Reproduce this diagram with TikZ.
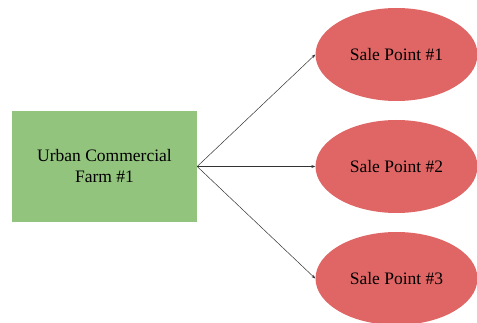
\documentclass[tikz,border=0pt]{standalone}
\usepackage{fontspec}
\setmainfont{Liberation Serif}
\usetikzlibrary{shapes.geometric,arrows.meta}

\definecolor{farmgreen}{RGB}{147,196,125}
\definecolor{salered}{RGB}{224,102,102}

\tikzset{
  farmbox/.style={rectangle, fill=farmgreen, minimum width=185pt, minimum height=111pt,
    inner sep=0pt, align=center, font=\fontsize{17.5}{21}\selectfont},
  salepoint/.style={ellipse, fill=salered, minimum width=162pt, minimum height=93pt,
    inner sep=0pt, font=\fontsize{17.5}{21}\selectfont},
  link/.style={draw=black!80, line width=0.5pt, -{Stealth[length=4pt,width=3pt]}}
}

\begin{document}
\begin{tikzpicture}[x=1pt, y=-1pt]

          \useasboundingbox (0,0) rectangle (477,323);

          % the farm
          \node[farmbox] (farm) at (104.5, 166.5) {Urban Commercial\\Farm \#1};

          % sale points
          \node[salepoint] (sp1) at (396.5, 54.5) {Sale Point \#1};
          \node[salepoint] (sp2) at (396.5, 166.5) {Sale Point \#2};
          \node[salepoint] (sp3) at (396.5, 278.5) {Sale Point \#3};

          % deliveries
          \draw[link] (farm.east) -- (sp1.west);
          \draw[link] (farm.east) -- (sp2.west);
          \draw[link] (farm.east) -- (sp3.west);

\end{tikzpicture}
\end{document}
